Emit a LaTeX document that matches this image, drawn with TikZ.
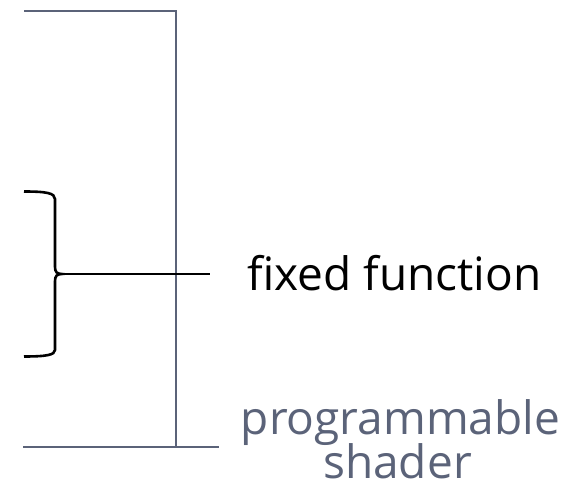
\documentclass[tikz,border=0pt]{standalone}
\usepackage{fontspec}
\setmainfont{Open Sans}
\definecolor{slate}{RGB}{91,99,121}
\begin{document}
\begin{tikzpicture}[x=1pt,y=-1pt,
  frame/.style={draw=slate,line width=2pt},
  brace/.style={draw=black,line width=2.6pt},
  link/.style={draw=black,line width=2pt},
  label/.style={font=\fontsize{46}{46}\selectfont,inner sep=0pt}]
\useasboundingbox (0,0) rectangle (581,489);
\coordinate (t0) at (24,11.5);
\coordinate (tc) at (175.5,11.5);
\coordinate (bc) at (175.5,446.5);
\coordinate (b0) at (23,446.5);
\coordinate (b1) at (219,446.5);
\draw[frame] (t0) -- (tc) -- (bc);
\draw[frame] (b0) -- (b1);
\coordinate (tip) at (62,274);
\coordinate (lend) at (210,274);
\draw[brace] (24,191.5) .. controls (46,191.5) and (55,193) .. (55,199) -- (55,267)
  .. controls (55,272) and (57,274) .. (tip)
  .. controls (57,274) and (55,276) .. (55,281) -- (55,350)
  .. controls (55,355) and (46,356.5) .. (24,356.5);
\draw[link] (tip) -- (lend);
\node[label,anchor=base west] (ff) at (247,290) {fixed function};
\node[label,text=slate,anchor=base] (ps1) at (400.5,434) {programmable};
\node[label,text=slate,anchor=base] (ps2) at (397.5,478) {shader};
\end{tikzpicture}
\end{document}
